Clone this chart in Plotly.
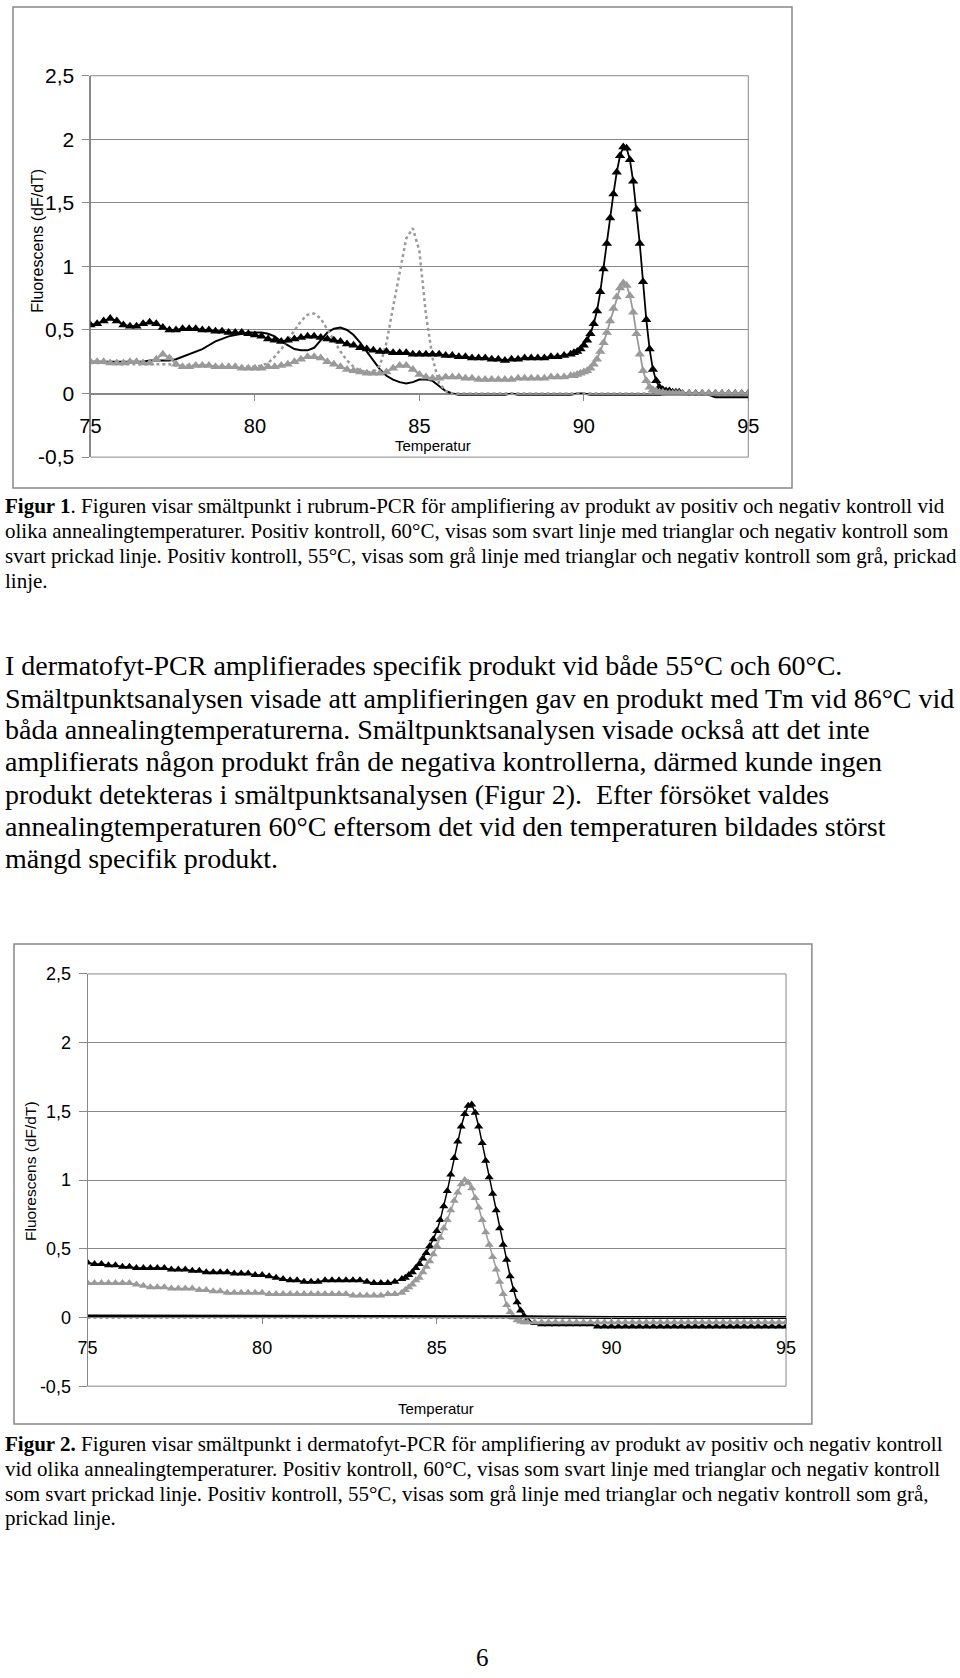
import plotly.graph_objects as go

FIG_W, FIG_H = 960, 1678
INSET = 8                      # measured: the paper area sits 8px inside the figure
PW, PH = FIG_W - 2 * INSET, FIG_H - 2 * INSET


def seq(a, b, step):
    n = int(round((b - a) / step)) + 1
    return [round(a + i * step, 2) for i in range(n)]


# ---------------- Figur 1 (rubrum-PCR) ----------------
temp1_tri = seq(75.0, 89.4, 0.2) + seq(89.6, 93.0, 0.1) + seq(93.2, 95.0, 0.2)
temp1_line = seq(75.0, 95.0, 0.2)

rubrum_pos60 = [
    0.54, 0.55, 0.57, 0.59, 0.57, 0.54, 0.53, 0.53, 0.55, 0.56,
    0.55, 0.52, 0.50, 0.50, 0.51, 0.51, 0.51, 0.50, 0.50, 0.49,
    0.49, 0.48, 0.48, 0.48, 0.47, 0.46, 0.45, 0.43, 0.42, 0.41,
    0.42, 0.43, 0.44, 0.45, 0.45, 0.44, 0.43, 0.42, 0.41, 0.39,
    0.38, 0.36, 0.35, 0.34, 0.33, 0.33, 0.32, 0.32, 0.32, 0.31,
    0.31, 0.31, 0.31, 0.31, 0.30, 0.30, 0.29, 0.29, 0.28, 0.28,
    0.28, 0.27, 0.27, 0.26, 0.27, 0.27, 0.28, 0.28, 0.28, 0.28,
    0.29, 0.29, 0.30,
    0.31, 0.32, 0.33, 0.35, 0.38, 0.42, 0.47, 0.55, 0.65, 0.80,
    0.98, 1.18, 1.38, 1.57, 1.74, 1.87, 1.94, 1.93, 1.84, 1.67,
    1.45, 1.18, 0.88, 0.58, 0.35, 0.19, 0.10, 0.05, 0.03, 0.02,
    0.02, 0.01, 0.01, 0.01, 0.00,
    0.00, 0.00, 0.00, 0.00, 0.00, 0.00, 0.00, 0.00, 0.00, 0.00,
]
rubrum_pos55 = [
    0.25, 0.25, 0.25, 0.24, 0.24, 0.24, 0.25, 0.25, 0.24, 0.24,
    0.27, 0.31, 0.28, 0.23, 0.21, 0.21, 0.22, 0.22, 0.22, 0.21,
    0.21, 0.21, 0.21, 0.20, 0.20, 0.20, 0.20, 0.21, 0.21, 0.22,
    0.23, 0.25, 0.27, 0.29, 0.29, 0.28, 0.25, 0.23, 0.21, 0.19,
    0.18, 0.17, 0.16, 0.16, 0.16, 0.17, 0.20, 0.22, 0.22, 0.19,
    0.15, 0.13, 0.12, 0.12, 0.13, 0.13, 0.13, 0.12, 0.12, 0.11,
    0.11, 0.11, 0.11, 0.11, 0.11, 0.12, 0.12, 0.12, 0.12, 0.12,
    0.13, 0.13, 0.13,
    0.14, 0.14, 0.15, 0.16, 0.17, 0.18, 0.20, 0.23, 0.27, 0.33,
    0.40, 0.48, 0.57, 0.67, 0.76, 0.83, 0.87, 0.85, 0.77, 0.64,
    0.47, 0.31, 0.18, 0.10, 0.05, 0.03, 0.02, 0.01, 0.01, 0.00,
    0.00, 0.00, 0.00, 0.00, 0.00,
    0.00, 0.00, 0.00, 0.00, 0.00, 0.00, 0.00, 0.00, 0.00, 0.00,
]
rubrum_neg60 = [
    0.25, 0.25, 0.25, 0.25, 0.25, 0.25, 0.25, 0.25, 0.25, 0.26,
    0.26, 0.26, 0.26, 0.27, 0.29, 0.31, 0.33, 0.35, 0.38, 0.41,
    0.43, 0.45, 0.46, 0.47, 0.48, 0.48, 0.48, 0.47, 0.45, 0.41,
    0.38, 0.35, 0.34, 0.34, 0.36, 0.42, 0.48, 0.51, 0.52, 0.50,
    0.46, 0.40, 0.33, 0.26, 0.19, 0.14, 0.11, 0.09, 0.08, 0.09,
    0.11, 0.11, 0.10, 0.06, 0.02, 0.00, -0.01, -0.01, -0.01, -0.01,
    -0.01, -0.01, -0.01, -0.01, 0.00, -0.01, -0.01, -0.01, -0.01, -0.01,
    -0.01, -0.01, -0.01, -0.01, 0.00, 0.00, -0.01, -0.01, -0.01, -0.01,
    -0.01, -0.01, -0.01, -0.01, -0.01, -0.01, -0.01, -0.01, -0.01, -0.01,
    -0.01, -0.01, -0.01, -0.01, -0.01, -0.03, -0.03, -0.03, -0.03, -0.03,
    -0.03,
]
rubrum_neg55 = [
    0.24, 0.24, 0.24, 0.24, 0.23, 0.23, 0.23, 0.23, 0.23, 0.23,
    0.23, 0.23, 0.23, 0.22, 0.22, 0.22, 0.22, 0.22, 0.22, 0.21,
    0.21, 0.21, 0.21, 0.21, 0.21, 0.21, 0.22, 0.24, 0.29, 0.35,
    0.42, 0.50, 0.57, 0.62, 0.63, 0.59, 0.51, 0.42, 0.33, 0.26,
    0.21, 0.18, 0.17, 0.17, 0.22, 0.40, 0.68, 0.96, 1.22, 1.30,
    1.12, 0.62, 0.28, 0.08, 0.02, 0.00, 0.00, 0.00, 0.00, 0.00,
    0.00, 0.00, 0.00, 0.00, 0.00, 0.00, 0.00, 0.00, 0.00, 0.00,
    0.00, 0.00, 0.00, 0.00, 0.00, 0.00, 0.00, 0.00, 0.00, 0.00,
    0.00, 0.00, 0.00, 0.00, 0.00, 0.00, 0.00, 0.00, 0.00, 0.00,
    0.00, 0.00, 0.00, 0.00, 0.00, 0.00, 0.00, 0.00, 0.00, 0.00,
    0.00,
]

# ---------------- Figur 2 (dermatofyt-PCR) ----------------
temp2_tri = seq(75.0, 83.8, 0.2) + seq(84.0, 87.6, 0.1) + seq(87.8, 95.0, 0.2)
temp2_neg = [75.0, 77.5, 80.0, 82.5, 85.0, 87.5, 90.0, 92.5, 95.0]

derm_pos60 = [
    0.40, 0.39, 0.39, 0.38, 0.38, 0.37, 0.37, 0.36, 0.36, 0.36,
    0.36, 0.36, 0.35, 0.35, 0.35, 0.34, 0.34, 0.33, 0.33, 0.33,
    0.33, 0.32, 0.32, 0.32, 0.31, 0.31, 0.30, 0.29, 0.28, 0.27,
    0.27, 0.26, 0.26, 0.26, 0.27, 0.27, 0.27, 0.27, 0.27, 0.27,
    0.26, 0.25, 0.25, 0.25, 0.26,
    0.28, 0.29, 0.31, 0.33, 0.36, 0.39, 0.43, 0.47, 0.52, 0.57,
    0.63, 0.71, 0.81, 0.92, 1.04, 1.16, 1.28, 1.39, 1.48, 1.54,
    1.55, 1.49, 1.39, 1.27, 1.14, 1.02, 0.90, 0.78, 0.65, 0.53,
    0.42, 0.30, 0.20, 0.11, 0.05, 0.01, -0.02,
    -0.04, -0.05, -0.05, -0.05, -0.05, -0.05, -0.05, -0.05, -0.05,
    -0.065, -0.065, -0.065, -0.065, -0.065, -0.065, -0.065, -0.065, -0.065, -0.065,
    -0.065, -0.065, -0.065, -0.065, -0.065, -0.065, -0.065, -0.065, -0.065, -0.065,
    -0.065, -0.065, -0.065, -0.065, -0.065, -0.065, -0.065, -0.065,
]
derm_pos55 = [
    0.25, 0.25, 0.25, 0.25, 0.25, 0.25, 0.25, 0.24, 0.23, 0.22,
    0.22, 0.22, 0.21, 0.21, 0.21, 0.21, 0.20, 0.20, 0.19, 0.19,
    0.18, 0.18, 0.18, 0.18, 0.18, 0.18, 0.17, 0.17, 0.17, 0.17,
    0.17, 0.17, 0.17, 0.17, 0.17, 0.17, 0.17, 0.17, 0.16, 0.16,
    0.16, 0.16, 0.16, 0.17, 0.17,
    0.18, 0.20, 0.22, 0.24, 0.27, 0.29, 0.33, 0.37, 0.41, 0.46,
    0.52, 0.58, 0.65, 0.71, 0.78, 0.85, 0.91, 0.97, 1.00, 0.98,
    0.94, 0.87, 0.80, 0.71, 0.62, 0.53, 0.44, 0.35, 0.26, 0.17,
    0.09, 0.04, 0.00, -0.02, -0.03, -0.035, -0.035,
    -0.035, -0.035, -0.035, -0.035, -0.035, -0.035, -0.035, -0.035, -0.035, -0.035,
    -0.035, -0.035, -0.035, -0.035, -0.035, -0.035, -0.035, -0.035, -0.035, -0.035,
    -0.035, -0.035, -0.035, -0.035, -0.035, -0.035, -0.035, -0.035, -0.035, -0.035,
    -0.035, -0.035, -0.035, -0.035, -0.035, -0.035, -0.035,
]
derm_neg60 = [0.01, 0.01, 0.01, 0.01, 0.01, 0.005, 0.0, 0.0, 0.0]
derm_neg55 = [0.0, 0.0, 0.0, 0.0, 0.0, 0.0, 0.0, 0.0, 0.0]

assert len(temp1_tri) == len(rubrum_pos60) == len(rubrum_pos55)
assert len(temp1_line) == len(rubrum_neg60) == len(rubrum_neg55)
assert len(temp2_tri) == len(derm_pos60) == len(derm_pos55)

y_tickvals = [-0.5, 0, 0.5, 1, 1.5, 2, 2.5]
y_ticktext = ["-0,5", "0", "0,5", "1", "1,5", "2", "2,5"]
x_tickvals = [75, 80, 85, 90, 95]
x_ticktext = ["75", "80", "85", "90", "95"]

caption1 = [
    "<b>Figur 1</b>. Figuren visar smältpunkt i rubrum-PCR för amplifiering av produkt av positiv och negativ kontroll vid",
    "olika annealingtemperaturer. Positiv kontroll, 60°C, visas som svart linje med trianglar och negativ kontroll som",
    "svart prickad linje. Positiv kontroll, 55°C, visas som grå linje med trianglar och negativ kontroll som grå, prickad",
    "linje.",
]
body = [
    "I dermatofyt-PCR amplifierades specifik produkt vid både 55°C och 60°C.",
    "Smältpunktsanalysen visade att amplifieringen gav en produkt med Tm vid 86°C vid",
    "båda annealingtemperaturerna. Smältpunktsanalysen visade också att det inte",
    "amplifierats någon produkt från de negativa kontrollerna, därmed kunde ingen",
    "produkt detekteras i smältpunktsanalysen (Figur 2).  Efter försöket valdes",
    "annealingtemperaturen 60°C eftersom det vid den temperaturen bildades störst",
    "mängd specifik produkt.",
]
caption2 = [
    "<b>Figur 2.</b> Figuren visar smältpunkt i dermatofyt-PCR för amplifiering av produkt av positiv och negativ kontroll",
    "vid olika annealingtemperaturer. Positiv kontroll, 60°C, visas som svart linje med trianglar och negativ kontroll",
    "som svart prickad linje. Positiv kontroll, 55°C, visas som grå linje med trianglar och negativ kontroll som grå,",
    "prickad linje.",
]
page_number = "6"

# ---------------- styling / layout constants ----------------
BLACK = "#000000"
GRAY = "#9a9a9a"
AXC = "#888888"
SANS = "Liberation Sans, Arial, sans-serif"
SERIF = "Liberation Serif, Times New Roman, serif"


def px_x(p):  # page pixel -> paper fraction
    return (p - INSET) / PW


def px_y(p):
    return 1 - (p - INSET) / PH


dom1x = [px_x(88), px_x(750)]
dom1y = [px_y(455), px_y(72)]
dom2x = [px_x(85), px_x(788)]
dom2y = [px_y(1388), px_y(974)]

fig = go.Figure()

# chart 1 traces
fig.add_trace(go.Scatter(x=temp1_line, y=rubrum_neg60, mode="lines",
                         line=dict(color=BLACK, width=2), xaxis="x", yaxis="y"))
fig.add_trace(go.Scatter(x=temp1_line, y=rubrum_neg55, mode="lines",
                         line=dict(color=GRAY, width=2.5, dash="dot"), xaxis="x", yaxis="y"))
fig.add_trace(go.Scatter(x=temp1_tri, y=rubrum_pos60, mode="lines+markers",
                         line=dict(color=BLACK, width=1.8),
                         marker=dict(symbol="triangle-up", size=9, color=BLACK, line=dict(width=0)),
                         xaxis="x", yaxis="y"))
fig.add_trace(go.Scatter(x=temp1_tri, y=rubrum_pos55, mode="lines+markers",
                         line=dict(color=GRAY, width=1.8),
                         marker=dict(symbol="triangle-up", size=9, color=GRAY, line=dict(width=0)),
                         xaxis="x", yaxis="y"))

# chart 2 traces
fig.add_trace(go.Scatter(x=temp2_tri, y=derm_pos60, mode="lines+markers",
                         line=dict(color=BLACK, width=1.5),
                         marker=dict(symbol="triangle-up", size=8, color=BLACK, line=dict(width=0)),
                         xaxis="x2", yaxis="y2"))
fig.add_trace(go.Scatter(x=temp2_tri, y=derm_pos55, mode="lines+markers",
                         line=dict(color=GRAY, width=1.5),
                         marker=dict(symbol="triangle-up", size=8, color=GRAY, line=dict(width=0)),
                         xaxis="x2", yaxis="y2"))
fig.add_trace(go.Scatter(x=temp2_neg, y=derm_neg55, mode="lines",
                         line=dict(color=GRAY, width=3, dash="dot"), xaxis="x2", yaxis="y2"))
fig.add_trace(go.Scatter(x=temp2_neg, y=derm_neg60, mode="lines",
                         line=dict(color=BLACK, width=3), xaxis="x2", yaxis="y2"))


def xaxis_cfg(dom, domy, fsize, standoff):
    return dict(domain=dom, range=[75, 95], anchor="free",
                position=domy[0] + (domy[1] - domy[0]) / 6.0,
                tickvals=x_tickvals, ticktext=x_ticktext,
                showgrid=False, zeroline=False, showline=True, linecolor=AXC, linewidth=1,
                ticks="outside", ticklen=6, tickcolor=AXC, tickwidth=1,
                ticklabelstandoff=standoff,
                tickfont=dict(family=SANS, size=fsize, color=BLACK))


def yaxis_cfg(dom, anchor, fsize, ticklen):
    return dict(domain=dom, range=[-0.5, 2.5], anchor=anchor,
                tickvals=y_tickvals, ticktext=y_ticktext,
                showgrid=True, gridcolor=AXC, gridwidth=1, zeroline=False,
                showline=True, linecolor=AXC, linewidth=1,
                ticks="outside", ticklen=ticklen, tickcolor=AXC, tickwidth=1,
                ticklabelstandoff=4,
                tickfont=dict(family=SANS, size=fsize, color=BLACK))


shapes = [
    dict(type="rect", xref="paper", yref="paper", x0=px_x(10), x1=px_x(794), y0=px_y(486), y1=px_y(3),
         line=dict(color=AXC, width=1.5)),
    dict(type="rect", xref="paper", yref="paper", x0=px_x(11), x1=px_x(814), y0=px_y(1426), y1=px_y(944),
         line=dict(color=AXC, width=1.5)),
    dict(type="rect", xref="x domain", yref="y domain", x0=0, x1=1, y0=0, y1=1,
         line=dict(color=AXC, width=1), layer="below"),
    dict(type="rect", xref="x2 domain", yref="y2 domain", x0=0, x1=1, y0=0, y1=1,
         line=dict(color=AXC, width=1), layer="below"),
]

annotations = []


def add_text(text, xpx, ypx, size, family, xanchor="left", angle=0):
    annotations.append(dict(text=text, x=px_x(xpx), y=px_y(ypx), xref="paper", yref="paper",
                            xanchor=xanchor, yanchor="middle", showarrow=False, textangle=angle,
                            font=dict(family=family, size=size, color=BLACK)))


add_text("Fluorescens (dF/dT)", 34, 238, 16, SANS, xanchor="center", angle=-90)
add_text("Temperatur", 433, 443, 15, SANS, xanchor="center")
add_text("Fluorescens (dF/dT)", 27, 1172, 15.5, SANS, xanchor="center", angle=-90)
add_text("Temperatur", 436, 1410, 15, SANS, xanchor="center")

for line, yy in zip(caption1, [504, 529, 554, 579]):
    add_text(line, 0, yy, 21, SERIF)
for line, yy in zip(body, [664, 697, 729, 761, 794, 826, 858]):
    add_text(line, 0, yy, 28, SERIF)
for line, yy in zip(caption2, [1446, 1471, 1496, 1520]):
    add_text(line, 0, yy, 21, SERIF)
add_text(page_number, 483, 1660, 25, SERIF, xanchor="center")

fig.update_layout(
    width=FIG_W, height=FIG_H, margin=dict(l=0, r=0, t=0, b=0),
    paper_bgcolor="white", plot_bgcolor="white", showlegend=False,
    xaxis=xaxis_cfg(dom1x, dom1y, 20, 8),
    yaxis=yaxis_cfg(dom1y, "x", 21, 7),
    xaxis2=xaxis_cfg(dom2x, dom2y, 18, 8),
    yaxis2=yaxis_cfg(dom2y, "x2", 18, 8),
    shapes=shapes, annotations=annotations,
)

fig.write_html("out.html", config={"displayModeBar": False},
               post_script="document.body.style.margin='0px';")
